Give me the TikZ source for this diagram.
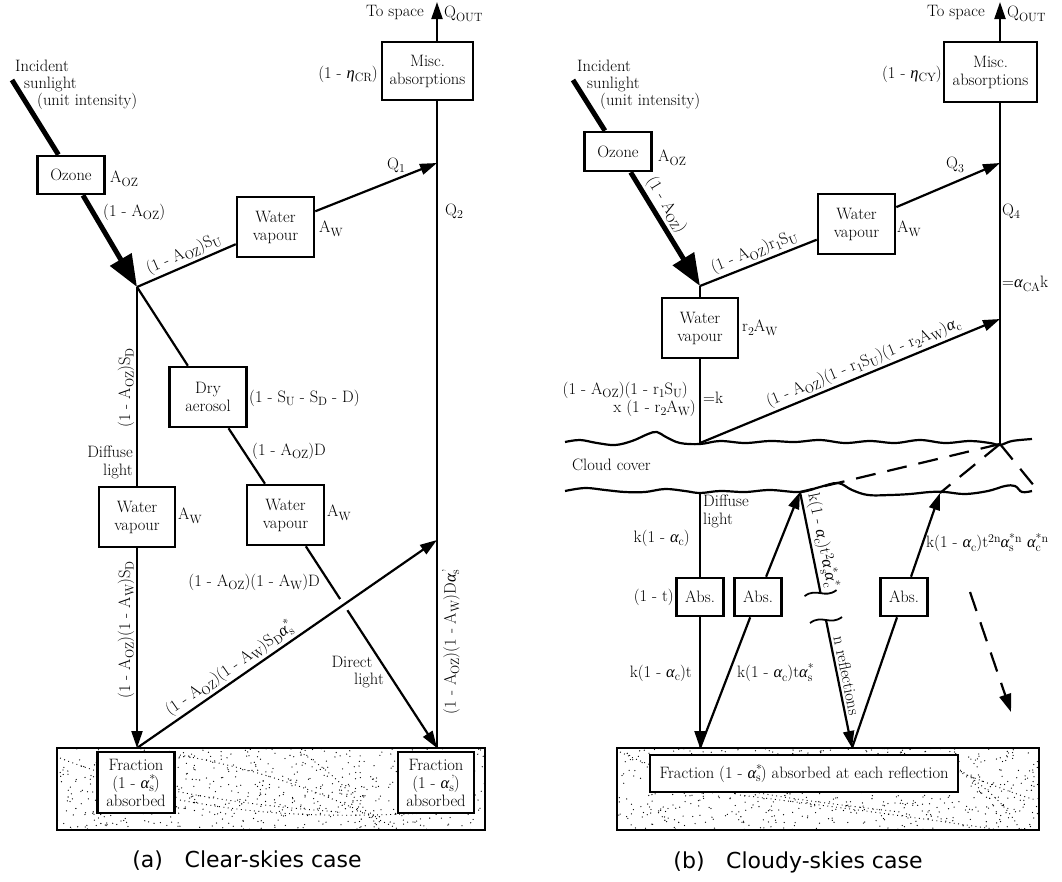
\documentclass[tikz,border=0pt]{standalone}
\usepackage{fontspec}
\setsansfont{DejaVu Sans}
\newfontfamily\gk{Liberation Serif}
\usetikzlibrary{arrows.meta,calc}
\newcommand{\sbs}[1]{\raisebox{-3.5pt}{\fontsize{12}{12}\selectfont #1}}
\newcommand{\sps}[1]{\raisebox{5pt}{\fontsize{12}{12}\selectfont #1}}
\newcommand{\ga}{{\gk\itshape α}}
\newcommand{\myAs}{\ga\rlap{\sps{*}}\sbs{s}}
\newcommand{\myAcs}{\ga\rlap{\sps{*}}\sbs{c}}
\newcommand{\myAc}{\ga\sbs{c}}
\newcommand{\myAp}{\ga\rlap{\sps{\,'}}\sbs{s}}
\begin{document}
\begin{tikzpicture}[x=1pt,y=-1pt,
  every node/.style={font=\fontsize{16.5}{18}\selectfont, text=black},
  box/.style={draw, line width=2.6pt, fill=white, inner sep=0pt, align=center},
  t/.style={inner sep=0pt},
  sl/.style={sloped, inner sep=2.5pt},
  ln/.style={line width=2.2pt},
  arr/.style={ln, -{Triangle[length=17pt,width=11pt]}},
  sun/.style={line width=5pt},
  bigarr/.style={sun, -{Triangle[length=32pt,width=24pt]}},
  dsh/.style={ln, dash pattern=on 20pt off 12pt},
  stip/.style={line width=0.9pt, dash pattern=on 0.9pt off 3.5pt},
  captxt/.style={font=\sffamily\fontsize{22}{26}\selectfont},
]
\useasboundingbox (0,0) rectangle (1062,881);
\pgfmathsetseed{7}

% ================= (a) clear skies =================
\node[box, minimum width=67pt, minimum height=38pt] (ozA) at (71,175) {Ozone};
\node[box, minimum width=77pt, minimum height=60pt] (wvUA) at (275.5,227) {Water\\vapour};
\node[box, minimum width=91pt, minimum height=58pt] (miscA) at (427.5,71) {Misc.\\absorptions};
\node[box, minimum width=77pt, minimum height=60pt] (dryA) at (208,397) {Dry\\aerosol};
\node[box, minimum width=76pt, minimum height=60pt] (wvLA) at (137,517) {Water\\vapour};
\node[box, minimum width=77pt, minimum height=60pt] (wvMA) at (285.5,515) {Water\\vapour};

\node[draw, line width=2.2pt, minimum width=428pt, minimum height=82pt, inner sep=0pt] (gndA) at (271,789) {};
\begin{scope}
  \clip (gndA.south west) rectangle (gndA.north east);
  \foreach \i in {1,...,700} \fill ({271+214*rand},{789+41*rand}) circle[radius=0.65];
  \draw[stip] (60,758) .. controls (140,790) and (240,805) .. (340,812);
  \draw[stip] (180,755) .. controls (260,770) and (320,790) .. (400,830);
  \draw[stip] (300,752) .. controls (330,770) and (360,800) .. (380,830);
  \draw[stip] (180,800) .. controls (260,815) and (330,820) .. (480,810);
\end{scope}
\node[box, line width=2.2pt, minimum width=77pt, minimum height=61pt] (frLA) at (136,782.5) {Fraction\\(1 - \myAs)\\absorbed};
\node[box, line width=2.2pt, minimum width=76pt, minimum height=61pt] (frRA) at (436,782.5) {Fraction\\(1 - \myAp)\\absorbed};

\coordinate (sunA) at (12,80);
\coordinate (JA) at (137,287);
\coordinate (q1A) at (437,163);
\coordinate (topA) at (437,2);
\coordinate (gLA) at (137,748);
\coordinate (gRA) at (437,748);
\coordinate (dgA) at (437,540);

\draw[sun] (sunA) -- (ozA);
\draw[bigarr] (ozA) -- (JA);
\draw[ln] (JA) -- node[sl, above, pos=.52]{(1 - A\sbs{OZ})S\sbs{U}} (wvUA);
\draw[arr] (wvUA) -- (q1A);
\draw[ln] (gRA) -- (miscA.south -| gRA);
\draw[arr] (miscA.north -| topA) -- (topA);
\draw[ln] (JA) -- (dryA);
\draw[ln] (dryA) -- (wvMA);
\draw[ln] (JA) -- (wvLA);
\draw[arr] (wvLA) -- (gLA);
\draw[arr] (wvMA) -- (gRA);
\draw[white, line width=13pt] ($(gLA)!0.676!(dgA)$) -- ($(gLA)!0.702!(dgA)$);
\draw[arr] (gLA) -- node[sl, above, pos=.33]{(1 - A\sbs{OZ})(1 - A\sbs{W})S\sbs{D}\myAs} (dgA);

\node[t, anchor=west] at (15,66) {Incident};
\node[t, anchor=west] at (24,84) {sunlight};
\node[t, anchor=west] at (37,101) {(unit intensity)};
\node[t, anchor=west] at (110,179) {A\sbs{OZ}};
\node[t, anchor=west] at (103,212) {(1 - A\sbs{OZ})};
\node[t, anchor=east] at (424,12) {To space};
\node[t, anchor=west] at (444,14) {Q\sbs{OUT}};
\node[t, anchor=east] at (378,74) {(1 - {\gk\itshape η}\sbs{CR})};
\node[t] at (396,165) {Q\sbs{1}};
\node[t] at (454,211) {Q\sbs{2}};
\node[t, anchor=west] at (319,229) {A\sbs{W}};
\node[t, anchor=west] at (249,398) {(1 - S\sbs{U} - S\sbs{D} - D)};
\node[t, anchor=west] at (252,451) {(1 - A\sbs{OZ})D};
\node[t, anchor=west] at (327,513) {A\sbs{W}};
\node[t, anchor=west] at (178,516) {A\sbs{W}};
\node[t, rotate=90] at (126,388) {(1 - A\sbs{OZ})S\sbs{D}};
\node[t, anchor=east, align=right] at (133,462) {Diffuse\\light};
\node[t, rotate=90] at (126,630) {(1 - A\sbs{OZ})(1 - A\sbs{W})S\sbs{D}};
\node[t, anchor=east] at (320,582) {(1 - A\sbs{OZ})(1 - A\sbs{W})D};
\node[t] at (352,662) {Direct};
\node[t] at (369,680) {light};
\node[t, rotate=90] at (451,642) {(1 - A\sbs{OZ})(1 - A\sbs{W})D\myAp};
\node[captxt] at (247,861) {(a)\enspace\, Clear-skies case};

% ================= (b) cloudy skies =================
\node[box, minimum width=67pt, minimum height=39pt] (ozB) at (618,151.5) {Ozone};
\node[box, minimum width=77pt, minimum height=60pt] (wvUB) at (856.5,224) {Water\\vapour};
\node[box, minimum width=93pt, minimum height=60pt] (miscB) at (990.5,72) {Misc.\\absorptions};
\node[box, minimum width=76pt, minimum height=60pt] (wvRB) at (700,328) {Water\\vapour};
\node[box, minimum width=47pt, minimum height=38pt] (ab1) at (700,597) {Abs.};
\node[box, minimum width=47pt, minimum height=38pt] (ab2) at (758,597) {Abs.};
\node[box, minimum width=47pt, minimum height=38pt] (ab3) at (904,597) {Abs.};

\node[draw, line width=2.2pt, minimum width=422pt, minimum height=82pt, inner sep=0pt] (gndB) at (828,789) {};
\begin{scope}
  \clip (gndB.south west) rectangle (gndB.north east);
  \foreach \i in {1,...,700} \fill ({828+211*rand},{789+41*rand}) circle[radius=0.65];
  \draw[stip] (620,752) .. controls (700,790) and (800,800) .. (900,812);
  \draw[stip] (900,752) .. controls (960,770) and (1000,790) .. (1036,800);
  \draw[stip] (740,795) .. controls (820,805) and (900,815) .. (1000,830);
  \draw[stip] (960,770) .. controls (990,790) and (1010,810) .. (1020,830);
\end{scope}
\node[box, line width=2.2pt, minimum width=308pt, minimum height=37pt] (frB) at (804,773.5) {Fraction (1 - \myAs) absorbed at each reflection};

\coordinate (sunB) at (573,80);
\coordinate (J2) at (700,286);
\coordinate (q3B) at (1000,163);
\coordinate (topB) at (1000,2);
\coordinate (J3) at (700,443);
\coordinate (a4B) at (1000,319);
\coordinate (cT) at (1000,444);
\coordinate (cb0) at (700,492);
\coordinate (gB1) at (700,748);
\coordinate (cb1) at (800,492);
\coordinate (gB2) at (852,748);
\coordinate (cb2) at (940,493);
\coordinate (dR) at (1035,487);
\coordinate (dA1) at (970,592);
\coordinate (dA2) at (1011,712);
\coordinate (brkA) at ($(cb1)!0.395!(gB2)$);
\coordinate (brkB) at ($(cb1)!0.5!(gB2)$);

% clouds
\draw[ln] plot[smooth, tension=.6] coordinates {(565,442) (580,440) (597,443) (615,445) (632,441) (648,434) (657,432) (666,437) (680,443) (700,444) (720,441) (745,443) (770,441) (795,442) (820,440) (845,443) (870,441) (895,443) (920,440) (945,443) (970,441) (990,443) (1000,445) (1012,441) (1032,439)};
\draw[ln] plot[smooth, tension=.6] coordinates {(565,491) (585,488) (605,490) (625,492) (645,492) (665,489) (685,491) (700,493) (720,491) (745,492) (770,490) (800,492) (820,487) (838,483) (852,490) (868,495) (890,495) (910,494) (930,492) (945,492) (965,494) (988,491) (1005,486) (1015,486) (1022,492) (1032,491)};

\draw[sun] (sunB) -- (ozB);
\draw[bigarr] (ozB) -- node[sl, above, pos=.35]{(1 - A\sbs{OZ})} (J2);
\draw[ln] (J2) -- node[sl, above]{(1 - A\sbs{OZ})r\sbs{1}S\sbs{U}} (wvUB);
\draw[arr] (wvUB) -- (q3B);
\draw[ln] (cT) -- (miscB.south -| cT);
\draw[arr] (miscB.north -| topB) -- (topB);
\draw[ln] (J2) -- (wvRB);
\draw[ln] (wvRB) -- (J3);
\draw[arr] (J3) -- node[sl, above, pos=.56]{(1 - A\sbs{OZ})(1 - r\sbs{1}S\sbs{U})(1 - r\sbs{2}A\sbs{W})\myAc} (a4B);
\draw[ln] (cb0) -- (ab1);
\draw[arr] (ab1) -- (gB1);
\draw[ln] (gB1) -- (ab2);
\draw[arr] (ab2) -- (cb1);
\draw[ln] (cb1) -- node[sl, above, pos=.5]{k(1 - \myAc)t\sps{2}\myAs\myAcs} (brkA);
\draw[arr] (brkB) -- node[sl, above, pos=.45]{n reflections} (gB2);
\draw[ln] (gB2) -- (ab3);
\draw[arr] (ab3) -- (cb2);
\draw[line width=1.8pt] ([shift={(-16,3)}]brkA) .. controls ([shift={(-4,-6)}]brkA) and ([shift={(4,6)}]brkA) .. ([shift={(16,-3)}]brkA);
\draw[line width=1.8pt] ([shift={(-16,3)}]brkB) .. controls ([shift={(-4,-6)}]brkB) and ([shift={(4,6)}]brkB) .. ([shift={(16,-3)}]brkB);
\draw[dsh] (cT) -- (cb1);
\draw[dsh] (cT) -- (cb2);
\draw[dsh] (cT) -- (dR);
\draw[dsh, -{Triangle[length=18pt,width=12pt]}] (dA1) -- (dA2);

\node[t, anchor=west] at (577,66) {Incident};
\node[t, anchor=west] at (587,84) {sunlight};
\node[t, anchor=west] at (600,101) {(unit intensity)};
\node[t, anchor=west] at (658,158) {A\sbs{OZ}};
\node[t, anchor=east] at (985,12) {To space};
\node[t, anchor=west] at (1007,14) {Q\sbs{OUT}};
\node[t, anchor=east] at (942,74) {(1 - {\gk\itshape η}\sbs{CY})};
\node[t] at (955,165) {Q\sbs{3}};
\node[t] at (1011,211) {Q\sbs{4}};
\node[t, anchor=west] at (897,229) {A\sbs{W}};
\node[t, anchor=west] at (742,328) {r\sbs{2}A\sbs{W}};
\node[t, anchor=west] at (1002,284) {=\ga\sbs{CA}k};
\node[t, anchor=east] at (688,390) {(1 - A\sbs{OZ})(1 - r\sbs{1}S\sbs{U})};
\node[t, anchor=east] at (696,408) {x (1 - r\sbs{2}A\sbs{W})};
\node[t, anchor=west] at (703,398) {=k};
\node[t, anchor=west] at (572,465) {Cloud cover};
\node[t, anchor=west, align=left] at (703,511) {Diffuse\\light};
\node[t, anchor=east] at (690,538) {k(1 - \myAc)};
\node[t, anchor=east] at (674,597) {(1 - t)};
\node[t, anchor=east] at (692,673) {k(1 - \myAc)t};
\node[t, anchor=west] at (737,673) {k(1 - \myAc)t\myAs};
\node[t, anchor=west] at (926,543) {k(1 - \myAc)t\sps{2n}\ga\rlap{\sps{*n}}\sbs{s}\hspace{0.5em} \ga\rlap{\sps{*n}}\sbs{c}};
\node[captxt] at (798,862) {(b)\enspace\, Cloudy-skies case};
\end{tikzpicture}
\end{document}
